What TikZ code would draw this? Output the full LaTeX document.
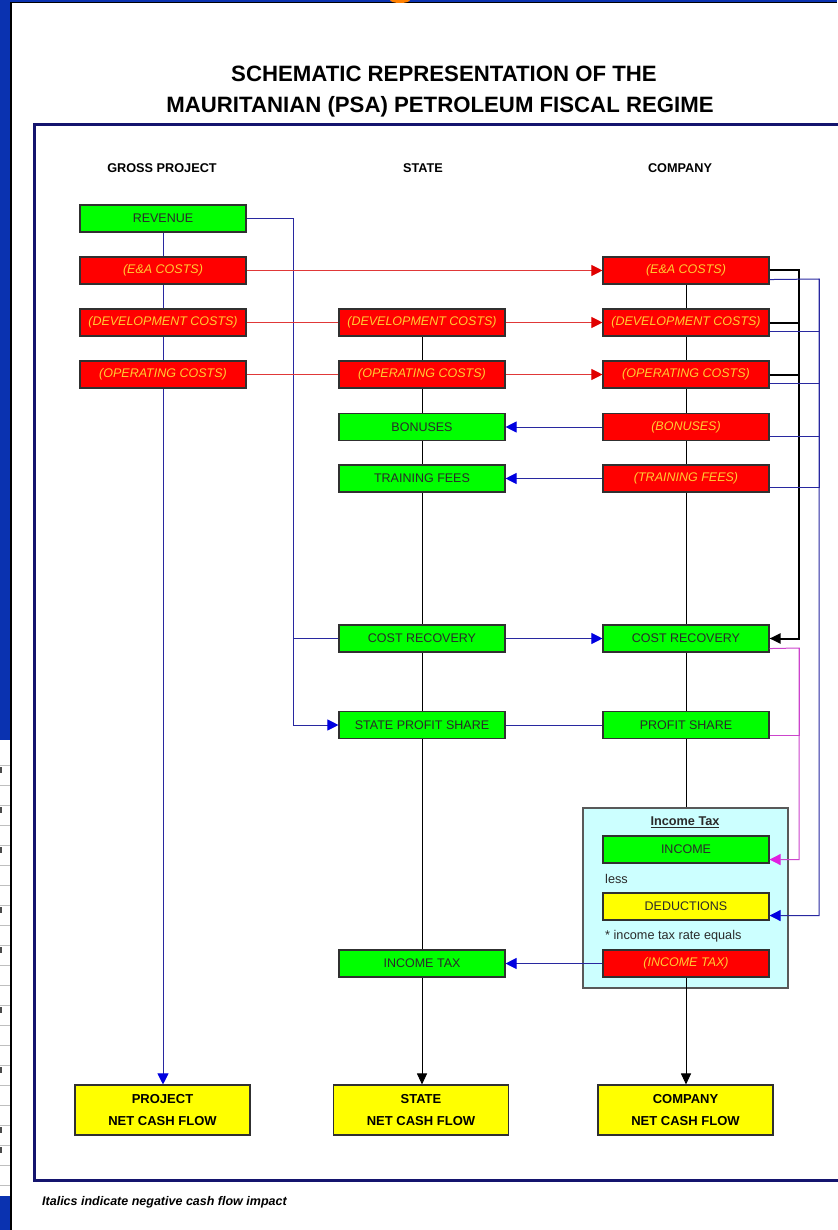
\documentclass[tikz,border=0pt]{standalone}
\usepackage{fontspec}
\setmainfont{Liberation Sans}
\usetikzlibrary{arrows.meta,backgrounds,calc}
\definecolor{bgblue}{HTML}{0A32B0}
\definecolor{framenavy}{HTML}{14146E}
\definecolor{boxgreen}{HTML}{00FF00}
\definecolor{boxred}{HTML}{FF0000}
\definecolor{boxyellow}{HTML}{FFFF00}
\definecolor{redtext}{HTML}{FFCC33}
\definecolor{greentext}{HTML}{2A2A2A}
\definecolor{lineblue}{HTML}{2828A0}
\definecolor{arrowblue}{HTML}{0000E0}
\definecolor{linered}{HTML}{E03838}
\definecolor{arrowred}{HTML}{E00000}
\definecolor{linemag}{HTML}{CC44CC}
\definecolor{arrowmag}{HTML}{E020E0}
\definecolor{cyanbg}{HTML}{CCFFFF}
\definecolor{boxedge}{HTML}{303030}
\begin{document}
\begin{tikzpicture}[x=1pt,y=-1pt,
  cbox/.style={draw=boxedge,line width=1.1pt,minimum width=166pt,minimum height=27pt,inner sep=0pt,font=\fontsize{12.5}{14}\selectfont},
  gbox/.style={cbox,fill=boxgreen,text=greentext},
  rbox/.style={cbox,fill=boxred,text=redtext,font=\fontsize{12.5}{14}\selectfont\itshape},
  ybox/.style={cbox,fill=boxyellow,text=greentext},
  nbox/.style={draw=boxedge,line width=1.1pt,fill=boxyellow,minimum width=175pt,minimum height=50pt,inner sep=0pt,align=center,font=\fontsize{13}{22}\selectfont\bfseries},
  titletxt/.style={font=\fontsize{22.2}{26}\selectfont\bfseries,inner sep=0pt},
  headtxt/.style={font=\fontsize{12.7}{14}\selectfont\bfseries,inner sep=0pt},
  plaintxt/.style={font=\fontsize{12.7}{14}\selectfont,text=greentext,inner sep=0pt,anchor=west},
  blline/.style={draw=lineblue,line width=1pt},
  rdline/.style={draw=linered,line width=1pt},
  bkline/.style={draw=black,line width=1pt},
  bkthick/.style={draw=black,line width=2pt},
  mgline/.style={draw=linemag,line width=1pt},
  tipB/.style={-{Triangle[length=11pt,width=11pt,color=arrowblue]}},
  tipR/.style={-{Triangle[length=11pt,width=11pt,color=arrowred]}},
  tipK/.style={-{Triangle[length=11pt,width=10pt,color=black]}},
  tipM/.style={-{Triangle[length=11pt,width=11pt,color=arrowmag]}},
]
\useasboundingbox (0,0) rectangle (837,1230);
\begin{scope}[on background layer]
  \fill[bgblue] (0,0) rectangle (837,1230);
  \fill[white] (11,3) rectangle (837,1230);
  \draw[black,line width=1.6pt] (11,1230) -- (11,2.5) -- (837,2.5);
  \fill[orange] (400,0) ellipse (10 and 3);
  \fill[white] (0,740) rectangle (10,1196);
  \foreach \yy in {765,785,...,1185} {\draw[gray!50,line width=0.6pt] (0,\yy) -- (10,\yy);}
  \foreach \yy in {771,811,851,911,951,1011,1071,1131,1151} {\fill[black!70] (0,\yy-4) rectangle (2,\yy+2);}
  \draw[framenavy,line width=3pt] (850,125) -- (34.5,125) -- (34.5,1180) -- (850,1180);
\end{scope}

% titles
\node[titletxt] (t1) at (444,74) {SCHEMATIC REPRESENTATION OF THE};
\node[titletxt] (t2) at (440,107) {MAURITANIAN (PSA) PETROLEUM FISCAL REGIME};
\node[headtxt] (h1) at (162,168) {GROSS PROJECT};
\node[headtxt] (h2) at (423,168) {STATE};
\node[headtxt] (h3) at (680,168) {COMPANY};

% income tax container
\node[draw=boxedge!80,line width=1.1pt,fill=cyanbg,minimum width=205pt,minimum height=180pt,inner sep=0pt] (itbox) at (685.5,898) {};
\node[font=\fontsize{12.7}{14}\selectfont\bfseries,inner sep=0pt,text=greentext] (itlabel) at (685,822) {\underline{Income Tax}};
\node[plaintxt] (less) at (605,879) {less};
\node[plaintxt] (rate) at (605,936) {* income tax rate equals};

% column 1
\node[gbox] (rev) at (163,218.5) {REVENUE};
\node[rbox] (ea1) at (163,270.5) {(E\&A COSTS)};
\node[rbox] (dev1) at (163,322.5) {(DEVELOPMENT COSTS)};
\node[rbox] (op1) at (163,374.5) {(OPERATING COSTS)};
% column 2
\node[rbox] (dev2) at (422,322.5) {(DEVELOPMENT COSTS)};
\node[rbox] (op2) at (422,374.5) {(OPERATING COSTS)};
\node[gbox] (bon2) at (422,427) {BONUSES};
\node[gbox] (tr2) at (422,478.5) {TRAINING FEES};
\node[gbox] (cr2) at (422,638.5) {COST RECOVERY};
\node[gbox] (sps2) at (422,725) {STATE PROFIT SHARE};
\node[gbox] (it2) at (422,963.5) {INCOME TAX};
% column 3
\node[rbox] (ea3) at (686,270.5) {(E\&A COSTS)};
\node[rbox] (dev3) at (686,322.5) {(DEVELOPMENT COSTS)};
\node[rbox] (op3) at (686,374.5) {(OPERATING COSTS)};
\node[rbox] (bon3) at (686,427) {(BONUSES)};
\node[rbox] (tr3) at (686,478.5) {(TRAINING FEES)};
\node[gbox] (cr3) at (686,638.5) {COST RECOVERY};
\node[gbox] (ps3) at (686,725) {PROFIT SHARE};
\node[gbox] (inc3) at (686,849.5) {INCOME};
\node[ybox] (ded3) at (686,906.5) {DEDUCTIONS};
\node[rbox] (itx3) at (686,963.5) {(INCOME TAX)};
% net cash flows
\node[nbox] (ncf1) at (162.5,1110) {PROJECT\\NET CASH FLOW};
\node[nbox] (ncf2) at (421,1110) {STATE\\NET CASH FLOW};
\node[nbox] (ncf3) at (685.5,1110) {COMPANY\\NET CASH FLOW};

\node[font=\fontsize{12.5}{14}\selectfont\bfseries\itshape,inner sep=0pt,anchor=west] (foot) at (42,1202) {Italics indicate negative cash flow impact};

% through lines (behind boxes)
\begin{scope}[on background layer]
  \draw[blline,tipB] (rev.south) -- (rev.south |- ncf1.north);
  \draw[bkline,tipK] (dev2.south) -- (dev2.south |- ncf2.north);
  \draw[bkline] (ea3.south) -- (ea3.south |- itbox.north);
\end{scope}
\draw[bkline,tipK] (itx3.south) -- (itx3.south |- ncf3.north);

% revenue split
\coordinate (jr) at (293,218.5);
\draw[blline,tipB] (rev.east) -- (jr) |- (sps2.west);
\draw[blline] (jr |- cr2.west) -- (cr2.west);

% red cost flows
\draw[rdline,tipR] (ea1.east) -- (ea3.west);
\draw[rdline] (dev1.east) -- (dev2.west);
\draw[rdline,tipR] (dev2.east) -- (dev3.west);
\draw[rdline] (op1.east) -- (op2.west);
\draw[rdline,tipR] (op2.east) -- (op3.west);

% company to state
\draw[blline,tipB] (bon3.west) -- (bon2.east);
\draw[blline,tipB] (tr3.west) -- (tr2.east);
\draw[blline,tipB] (cr2.east) -- (cr3.west);
\draw[blline] (sps2.east) -- (ps3.west);
\draw[blline,tipB] (itx3.west) -- (it2.east);

% black cost recovery bracket
\coordinate (kx) at (798.5,270.5);
\draw[bkthick,tipK] (ea3.east) -- (kx) |- (cr3.east);
\draw[bkthick] (dev3.east) -- (kx |- dev3.east);
\draw[bkthick] (op3.east) -- (kx |- op3.east);

% blue deductions bracket
\coordinate (bx) at (819,279);
\draw[blline,tipB] ([yshift=5pt]ea3.south east) -- (bx) |- ([yshift=5pt]ded3.south east);
\draw[blline] ([yshift=5pt]dev3.south east) -| (bx);
\draw[blline] ([yshift=5pt]op3.south east) -| (bx);
\draw[blline] ([yshift=5pt]bon3.south east) -| (bx);
\draw[blline] ([yshift=5pt]tr3.south east) -| (bx);

% magenta income bracket
\coordinate (mx) at (799,648);
\draw[mgline,tipM] ([yshift=4pt]cr3.south east) -- (mx) |- ([yshift=4pt]inc3.south east);
\draw[mgline] ([yshift=4pt]ps3.south east) -| (mx);
\end{tikzpicture}
\end{document}
